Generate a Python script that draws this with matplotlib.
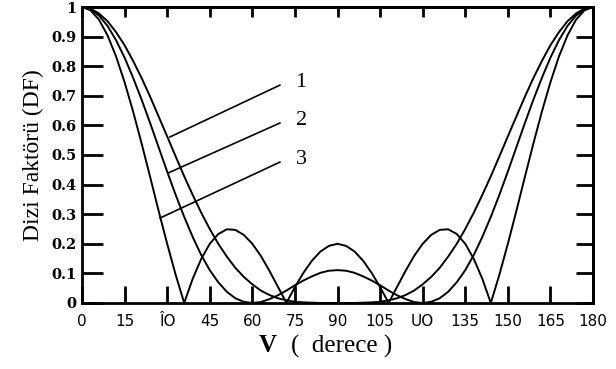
import matplotlib
matplotlib.use('Agg')
import matplotlib.pyplot as plt

# angle V (degrees) at which the curves were read
angles = [0, 3, 6, 9, 12, 15, 18, 21, 24, 27, 30, 33, 36, 39, 42, 45, 48, 51, 54, 57,
          60, 63, 66, 69, 72, 75, 78, 81, 84, 87, 90, 93, 96, 99, 102, 105, 108, 111,
          114, 117, 120, 123, 126, 129, 132, 135, 138, 141, 144, 147, 150, 153, 156,
          159, 162, 165, 168, 171, 174, 177, 180]

# curve 3 (narrow main lobe, three side lobes)
df_3 = [1.000, 0.989, 0.957, 0.904, 0.833, 0.746, 0.647, 0.539, 0.426, 0.311, 0.200,
        0.095, 0.000, 0.082, 0.149, 0.200, 0.233, 0.249, 0.247, 0.230, 0.200, 0.159,
        0.109, 0.055, 0.000, 0.054, 0.102, 0.143, 0.174, 0.193, 0.200,
        0.193, 0.174, 0.143, 0.102, 0.054, 0.000, 0.055, 0.109, 0.159, 0.200, 0.230,
        0.247, 0.249, 0.233, 0.200, 0.149, 0.082, 0.000, 0.095, 0.200, 0.311, 0.426,
        0.539, 0.647, 0.746, 0.833, 0.904, 0.957, 0.989, 1.000]

# curve 2 (small side lobe around 90)
df_2 = [1.000, 0.992, 0.971, 0.936, 0.888, 0.829, 0.761, 0.687, 0.608, 0.526, 0.444,
        0.365, 0.291, 0.223, 0.162, 0.111, 0.070, 0.038, 0.016, 0.004, 0.000, 0.003,
        0.013, 0.026, 0.042, 0.060, 0.076, 0.090, 0.102, 0.109, 0.111,
        0.109, 0.102, 0.090, 0.076, 0.060, 0.042, 0.026, 0.013, 0.003, 0.000, 0.004,
        0.016, 0.038, 0.070, 0.111, 0.162, 0.223, 0.291, 0.365, 0.444, 0.526, 0.608,
        0.687, 0.761, 0.829, 0.888, 0.936, 0.971, 0.992, 1.000]

# curve 1 (widest, no side lobes)
df_1 = [1.000, 0.995, 0.978, 0.952, 0.915, 0.871, 0.818, 0.760, 0.697, 0.630, 0.563,
        0.495, 0.428, 0.365, 0.305, 0.250, 0.200, 0.157, 0.119, 0.088, 0.063, 0.042,
        0.027, 0.016, 0.009, 0.004, 0.002, 0.001, 0.000, 0.000, 0.000,
        0.000, 0.000, 0.001, 0.002, 0.004, 0.009, 0.016, 0.027, 0.042, 0.063, 0.088,
        0.119, 0.157, 0.200, 0.250, 0.305, 0.365, 0.428, 0.495, 0.563, 0.630, 0.697,
        0.760, 0.818, 0.871, 0.915, 0.952, 0.978, 0.995, 1.000]

x_ticks = [0, 15, 30, 45, 60, 75, 90, 105, 120, 135, 150, 165, 180]
x_tick_labels = ['0', '15', 'ÎO', '45', '60', '75', '90', '105', 'UO', '135', '150', '165', '180']
y_ticks = [0, 0.1, 0.2, 0.3, 0.4, 0.5, 0.6, 0.7, 0.8, 0.9, 1]
y_tick_labels = ['0', '0.1', '0.2', '0.3', '0.4', '0.5', '0.6', '0.7', '0.8', '0.9', '1']

fig = plt.figure(figsize=(6.16, 3.69), dpi=100)
ax = fig.add_axes([0.1331, 0.1789, 0.8296, 0.8021])

for vals in (df_1, df_2, df_3):
    ax.plot(angles, vals, color='black', linewidth=1.4)

# label leaders for the three curves
leaders = [('1', (31.0, 0.561), (69.7, 0.736)),
           ('2', (30.3, 0.439), (69.7, 0.608)),
           ('3', (27.5, 0.287), (69.7, 0.476))]
for name, p0, p1 in leaders:
    ax.plot([p0[0], p1[0]], [p0[1], p1[1]], color='black', linewidth=1.2)
    ax.text(p1[0] + 7.5, p1[1] + 0.01, name, fontsize=16, family='Liberation Serif',
            ha='center', va='center')

ax.set_xlim(0, 180)
ax.set_ylim(0, 1)
ax.set_xticks(x_ticks)
ax.set_xticklabels(x_tick_labels, fontsize=11, family='DejaVu Sans')
ax.set_yticks(y_ticks)
ax.set_yticklabels(y_tick_labels, fontsize=10.5, family='DejaVu Serif', fontweight='bold')
ax.tick_params(axis='x', direction='in', length=12, width=2, top=False, pad=8)
ax.tick_params(axis='y', direction='in', length=15, width=2, right=False, pad=4)

top = ax.secondary_xaxis('top')
top.set_xticks(x_ticks)
top.tick_params(direction='in', length=7, width=2, labeltop=False)
right = ax.secondary_yaxis('right')
right.set_yticks(y_ticks)
right.tick_params(direction='in', length=12, width=2, labelright=False)

for sp in list(ax.spines.values()) + [top.spines['top'], right.spines['right']]:
    sp.set_linewidth(2)

ax.set_ylabel('Dizi Faktörü (DF)', fontsize=17, family='Liberation Serif', labelpad=5)
fig.text(0.434, 0.045, 'V', fontsize=18, family='Liberation Serif', fontweight='bold',
         ha='center', va='baseline')
fig.text(0.472, 0.045, '(  derece )', fontsize=18, family='Liberation Serif',
         ha='left', va='baseline')

plt.savefig('out.png', dpi=100)
